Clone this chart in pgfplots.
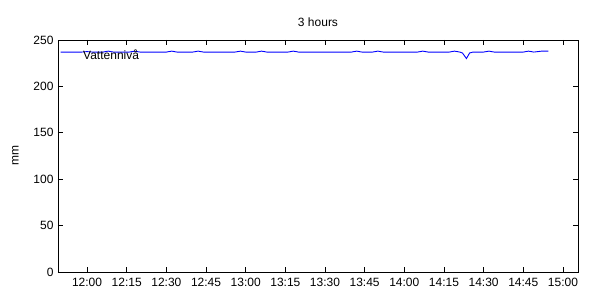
\documentclass[border=0pt]{standalone}
\usepackage{pgfplots}
\pgfplotsset{compat=1.18}
\usepackage{fontspec}
\setmainfont{Liberation Sans}
\begin{document}
\begin{tikzpicture}
\begin{axis}[
  name=ax,
  scale only axis,
  width=520pt, height=232pt,
  xmin=-11, xmax=185.7,
  ymin=0, ymax=250,
  xtick={0,15,...,180},
  xticklabels={12:00,12:15,12:30,12:45,13:00,13:15,13:30,13:45,14:00,14:15,14:30,14:45,15:00},
  ytick={0,50,...,250},
  tick align=inside,
  major tick length=5pt,
  tick style={black, line width=0.8pt},
  axis line style={line width=0.8pt},
  every tick label/.style={font=\fontsize{12}{14}\selectfont},
  xticklabel style={yshift=-3pt},
  yticklabel style={xshift=-1pt},
  /pgf/number format/assume math mode=true,
  title={3 hours},
  title style={font=\fontsize{12}{14}\selectfont, yshift=4pt},
  ylabel={mm},
  ylabel style={font=\fontsize{12}{14}\selectfont, yshift=8pt},
  clip=false,
]
\addplot[color={rgb,255:red,0;green,0;blue,255}, line width=0.9pt] table {
x y
-10 237
-2 237
0 237.5
2 237
6 237
8 238
10 237
16 237
18 238
20 237
30 237
32 238
34 237
40 237
42 238
44 237
56 237
58 238
60 237
64 237
66 238
68 237
76 237
78 238
80 237
100 237
102 238
104 237
108 237
110 238
112 237
125 237
127 238
129 237
137 237
139 238
141 237
142 236
143.5 230
144.7 236
146 237
150 237
152 238
154 237
165 237
167 238
169 237
172 238
174.5 238
};
\node[anchor=west, font=\fontsize{12}{14}\selectfont] at (axis cs:-2.8,234) {Vattennivå};
\end{axis}
\path ([shift={(-58pt,-28pt)}]ax.south west) rectangle ([shift={(22pt,40pt)}]ax.north east);
\end{tikzpicture}
\end{document}
